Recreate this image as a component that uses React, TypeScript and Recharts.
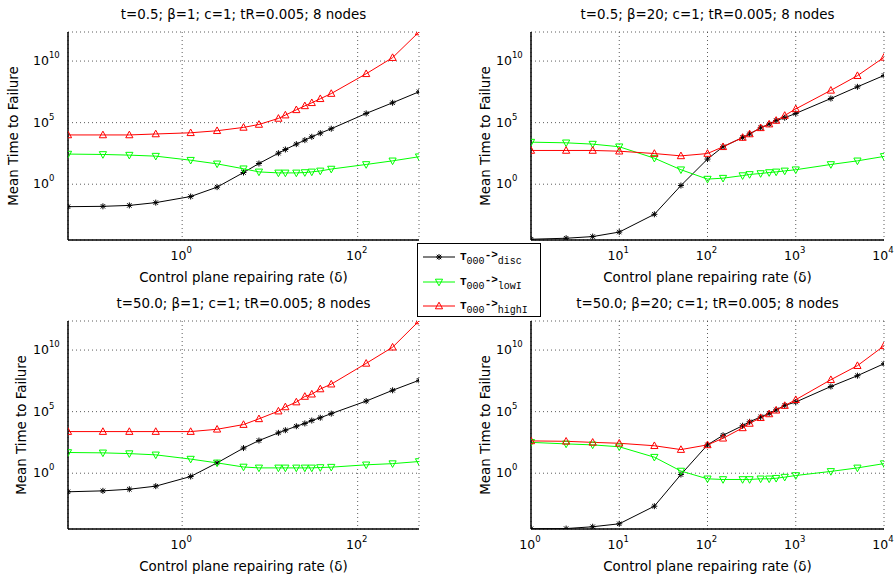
import React from 'react';
import { LineChart, Line, XAxis, YAxis, CartesianGrid, Legend } from 'recharts';

// control plane repairing rate (delta) for beta=1 and beta=20
const deltaBeta1 = [0.05, 0.125, 0.25, 0.5, 1.25, 2.5, 5, 7.5, 12.5, 15, 20, 25, 30, 37.5, 50, 125, 250, 500];
const deltaBeta20 = [1, 2.5, 5, 10, 25, 50, 100, 150, 250, 300, 400, 500, 600, 750, 1000, 2500, 5000, 10000];

// t=0.5; beta=1
const discA = [1.5e-2, 1.6e-2, 1.9e-2, 3.2e-2, 1.0e-1, 5.8e-1, 8.9, 4.8e1, 3.3e2, 6.6e2, 1.8e3, 3.8e3, 7.1e3, 1.4e4, 3.2e4, 5.6e5, 4.1e6, 3.2e7];
const lowIA = [2.8e2, 2.6e2, 2.3e2, 1.9e2, 8.9e1, 4.5e1, 1.8e1, 1.0e1, 8.3, 8.3, 8.3, 8.9, 1.0e1, 1.2e1, 1.7e1, 4.0e1, 7.9e1, 1.7e2];
const highIA = [1.0e4, 1.0e4, 1.0e4, 1.2e4, 1.5e4, 2.2e4, 4.1e4, 7.1e4, 2.2e5, 4.1e5, 1.1e6, 2.3e6, 4.1e6, 8.7e6, 2.3e7, 9.3e8, 1.9e10, 2.3e12];

// t=0.5; beta=20
const discB = [3.4e-5, 4.1e-5, 5.6e-5, 1.3e-4, 3.6e-3, 7.8e-1, 1.1e2, 1.1e3, 6.2e3, 1.2e4, 3.8e4, 7.6e4, 1.5e5, 2.5e5, 5.6e5, 9.1e6, 8.1e7, 6.8e8];
const lowIB = [2.6e3, 2.3e3, 1.8e3, 1.1e3, 1.3e2, 1.5e1, 2.6, 3.1, 5.0, 6.2, 7.4, 8.9, 1.0e1, 1.2e1, 1.5e1, 4.0e1, 7.9e1, 1.8e2];
const highIB = [5.5e2, 5.5e2, 5.5e2, 4.8e2, 3.1e2, 2.0e2, 3.1e2, 1.1e3, 6.2e3, 1.2e4, 3.8e4, 7.6e4, 1.5e5, 3.8e5, 1.3e6, 4.2e7, 6.5e8, 2.0e10];

// t=50.0; beta=1
const discC = [3.1e-2, 3.7e-2, 5.0e-2, 8.9e-2, 5.4e-1, 6.9, 1.1e2, 4.5e2, 1.9e3, 3.1e3, 6.5e3, 1.1e4, 1.9e4, 3.2e4, 6.9e4, 7.2e5, 5.4e6, 3.5e7];
const lowIC = [4.8e1, 4.5e1, 3.9e1, 3.1e1, 1.4e1, 6.9, 3.2, 2.7, 2.7, 2.7, 2.7, 2.7, 2.7, 2.9, 3.1, 4.8, 6.0, 8.9];
const highIC = [2.4e3, 2.4e3, 2.4e3, 2.4e3, 2.4e3, 3.7e3, 8.9e3, 2.6e4, 1.1e5, 2.4e5, 6.0e5, 1.7e6, 2.6e6, 6.9e6, 1.7e7, 8.3e8, 1.7e10, 2.3e12];

// t=50.0; beta=20
const discD = [3.1e-5, 3.2e-5, 4.5e-5, 7.8e-5, 2.1e-3, 7.8e-1, 2.0e2, 1.2e3, 7.2e3, 1.5e4, 3.7e4, 7.2e4, 1.4e5, 3.2e5, 6.0e5, 1.1e7, 8.3e7, 7.8e8];
const lowID = [3.2e2, 2.4e2, 2.0e2, 1.4e2, 2.0e1, 1.5, 3.5e-1, 3.1e-1, 3.1e-1, 3.1e-1, 3.5e-1, 3.5e-1, 3.9e-1, 4.8e-1, 6.5e-1, 1.4, 2.7, 6.0];
const highID = [4.2e2, 3.9e2, 3.2e2, 2.7e2, 1.7e2, 8.3e1, 2.0e2, 6.9e2, 4.8e3, 1.1e4, 3.2e4, 6.5e4, 1.3e5, 3.1e5, 9.3e5, 3.9e7, 5.4e8, 2.2e10];

const yTicks = [1, 1e5, 1e10];
const yDomain = [Math.pow(10, -4.53), Math.pow(10, 12.36)];

const FONT = '"DejaVu Sans", sans-serif';
const MONO = '"Liberation Mono", monospace';

const panels = [
  { title: 't=0.5; β=1; c=1; tR=0.005; 8 nodes', x: deltaBeta1, disc: discA, lowI: lowIA, highI: highIA,
    xDomain: [0.05, 500], xTicks: [1, 100], left: 0, top: 0, yLabelX: 14 },
  { title: 't=0.5; β=20; c=1; tR=0.005; 8 nodes', x: deltaBeta20, disc: discB, lowI: lowIB, highI: highIB,
    xDomain: [1, 10000], xTicks: [1, 10, 100, 1000, 10000], left: 448, top: 0, yLabelX: 486 },
  { title: 't=50.0; β=1; c=1; tR=0.005; 8 nodes', x: deltaBeta1, disc: discC, lowI: lowIC, highI: highIC,
    xDomain: [0.05, 500], xTicks: [1, 100], left: 0, top: 289, yLabelX: 22 },
  { title: 't=50.0; β=20; c=1; tR=0.005; 8 nodes', x: deltaBeta20, disc: discD, lowI: lowID, highI: highID,
    xDomain: [1, 10000], xTicks: [1, 10, 100, 1000, 10000], left: 448, top: 289, yLabelX: 486 },
];

const series = [
  { key: 'disc', color: '#000000', marker: 'star' },
  { key: 'lowI', color: '#00ff00', marker: 'down' },
  { key: 'highI', color: '#ff0000', marker: 'up' },
];

const Marker = ({ cx, cy, kind, color }: any) => {
  if (cx == null || cy == null) return null;
  if (kind === 'star') {
    return (
      <g stroke={color} strokeWidth={1}>
        <line x1={cx - 3} y1={cy} x2={cx + 3} y2={cy} />
        <line x1={cx} y1={cy - 3} x2={cx} y2={cy + 3} />
        <line x1={cx - 2.2} y1={cy - 2.2} x2={cx + 2.2} y2={cy + 2.2} />
        <line x1={cx - 2.2} y1={cy + 2.2} x2={cx + 2.2} y2={cy - 2.2} />
      </g>
    );
  }
  const pts = kind === 'up'
    ? `${cx - 3.6},${cy + 2.8} ${cx + 3.6},${cy + 2.8} ${cx},${cy - 3.8}`
    : `${cx - 3.6},${cy - 2.8} ${cx + 3.6},${cy - 2.8} ${cx},${cy + 3.8}`;
  return <polygon points={pts} fill="none" stroke={color} strokeWidth={1} />;
};

const expOf = (v: number) => Math.round(Math.log10(v));

const YTick = (props: any) => {
  const { x, y, payload } = props;
  return (
    <text x={x - 35} y={y + 4} fill="#000" fontFamily={FONT} fontSize={12.5} textAnchor="start">
      10<tspan dy={-7} fontSize={8.5}>{expOf(payload.value)}</tspan>
    </text>
  );
};

const XTick = (props: any) => {
  const { x, y, payload } = props;
  return (
    <text x={x - 1} y={y + 20} fill="#000" fontFamily={FONT} fontSize={12.5} textAnchor="middle">
      10<tspan dy={-7} fontSize={8.5}>{expOf(payload.value)}</tspan>
    </text>
  );
};

const LegendBox = () => (
  <div style={{ width: 122, height: 71, border: '1px solid #000', background: '#fff', paddingTop: 1 }}>
    {series.map((s) => (
      <div key={s.key} style={{ display: 'flex', alignItems: 'center', height: 24.5 }}>
        <svg width={42} height={14} style={{ flex: 'none' }}>
          <line x1={5} y1={7} x2={37} y2={7} stroke={s.color} strokeWidth={1} />
          <Marker cx={21} cy={7} kind={s.marker} color={s.color} />
        </svg>
        <span style={{ fontFamily: MONO, fontSize: 11, color: '#000', whiteSpace: 'nowrap' }}>
          <b>T</b>
          <span style={{ fontSize: 10, position: 'relative', top: 4 }}>000</span>
          <b style={{ position: 'relative', top: -2 }}>-&gt;</b>
          <span style={{ fontSize: 10, position: 'relative', top: 4 }}>{s.key}</span>
        </span>
      </div>
    ))}
  </div>
);

const Panel = ({ p, withLegend }: any) => {
  const rows = p.x.map((d: number, i: number) => ({
    delta: d,
    disc: p.disc[i],
    lowI: p.lowI[i],
    highI: p.highI[i],
  }));
  const isLeft = p.left === 0;
  const margin = isLeft
    ? { top: 32, right: 28, bottom: 0, left: 8 }
    : { top: 32, right: 11, bottom: 0, left: 23 };
  const plotLeft = p.left + margin.left + 60;
  const plotW = 447 - margin.left - margin.right - 60;
  const cx = plotLeft + plotW / 2;
  const labelStyle: React.CSSProperties = {
    position: 'absolute', fontFamily: FONT, fontSize: 13.4, color: '#000',
    whiteSpace: 'nowrap', width: 300, textAlign: 'center', lineHeight: '16px',
  };
  return (
    <>
      <div style={{ ...labelStyle, left: cx - 150, top: p.top + 7 }}>{p.title}</div>
      <div style={{ ...labelStyle, left: cx - 150, top: p.top + 270 }}>Control plane repairing rate (δ)</div>
      <div style={{ ...labelStyle, left: p.yLabelX - 150, top: p.top + 128, transform: 'rotate(-90deg)' }}>
        Mean Time to Failure
      </div>
      <div style={{ position: 'absolute', left: p.left, top: p.top }}>
        <LineChart width={447} height={290} data={rows} margin={margin}>
          <CartesianGrid stroke="#333" strokeDasharray="1 3" strokeWidth={0.8} />
          <XAxis dataKey="delta" type="number" scale="log" domain={p.xDomain} ticks={p.xTicks} interval={0}
            allowDataOverflow height={50} tickSize={0} tickMargin={0} tickLine={false}
            axisLine={{ stroke: '#000', strokeWidth: 1.5 }} tick={<XTick />} />
          <XAxis xAxisId="top" orientation="top" dataKey="delta" type="number" scale="log" domain={p.xDomain}
            allowDataOverflow height={0} tick={false} tickLine={false} axisLine={{ stroke: '#000', strokeWidth: 1.5 }} />
          <YAxis type="number" scale="log" domain={yDomain} ticks={yTicks} interval={0} allowDataOverflow width={60}
            tickSize={0} tickMargin={0} tickLine={false} axisLine={{ stroke: '#000', strokeWidth: 1.5 }} tick={<YTick />} />
          <YAxis yAxisId="right" orientation="right" type="number" scale="log" domain={yDomain} allowDataOverflow
            width={0} tick={false} tickLine={false} axisLine={{ stroke: '#000', strokeWidth: 1.5 }} />
          {series.map((s) => (
            <Line key={s.key} dataKey={s.key} name={s.key} stroke={s.color} strokeWidth={1}
              isAnimationActive={false} activeDot={false}
              dot={(d: any) => <Marker key={`${s.key}-${d.index}`} cx={d.cx} cy={d.cy} kind={s.marker} color={s.color} />} />
          ))}
          {withLegend && (
            <Legend layout="vertical" align="center" verticalAlign="middle" content={() => <LegendBox />}
              wrapperStyle={{ left: 417, top: 243, width: 124, height: 73, zIndex: 10 }} />
          )}
        </LineChart>
      </div>
    </>
  );
};

export default function App() {
  return (
    <div style={{ position: 'absolute', left: 0, top: 0, width: 895, height: 581, background: '#fff', overflow: 'hidden' }}>
      {panels.map((p, i) => (
        <Panel key={i} p={p} withLegend={i === 0} />
      ))}
    </div>
  );
}
